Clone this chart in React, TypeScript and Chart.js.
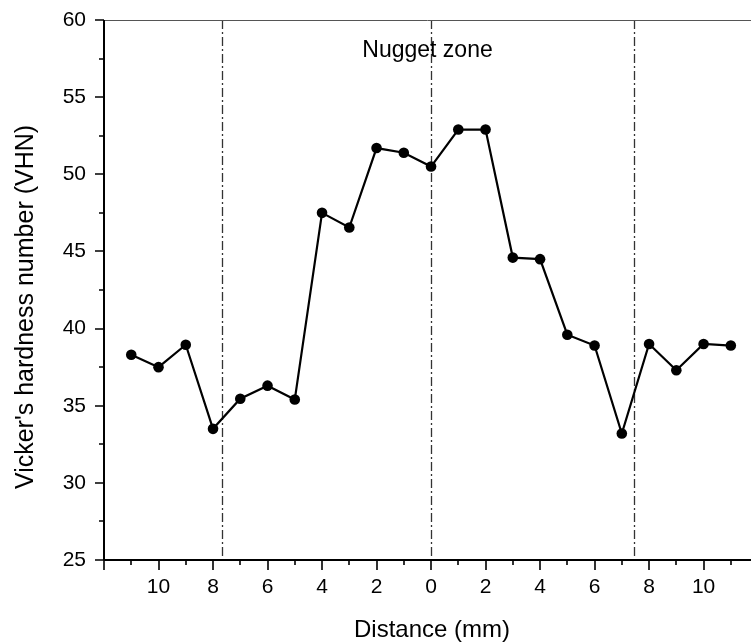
import React, { useEffect, useRef } from 'react';
import { Chart, registerables } from 'chart.js';

Chart.register(...registerables);

// ---- data ----
const distances = [-11, -10, -9, -8, -7, -6, -5, -4, -3, -2, -1, 0, 1, 2, 3, 4, 5, 6, 7, 8, 9, 10, 11];
const hardness = [38.3, 37.5, 38.95, 33.5, 35.45, 36.3, 35.4, 47.5, 46.55, 51.7, 51.4, 50.5, 52.9, 52.9, 44.6, 44.5, 39.6, 38.9, 33.2, 39.0, 37.3, 39.0, 38.9];
const zoneBoundaries = [-7.67, 0, 7.45];
const xRange = [-12, 11.74];
const yRange = [25, 60];
const xTitle = 'Distance (mm)';
const yTitle = "Vicker's hardness number (VHN)";
const zoneLabel = 'Nugget zone';

const FONT = '"Liberation Sans", Arial, Helvetica, sans-serif';

const decorPlugin = {
  id: 'decor',
  beforeDatasetsDraw(chart: any) {
    const { ctx, chartArea: a, scales } = chart;
    const x = scales.x;
    ctx.save();
    // zone boundary lines
    ctx.strokeStyle = '#333';
    ctx.lineWidth = 1.3;
    ctx.setLineDash([9, 3, 2, 3]);
    zoneBoundaries.forEach((v) => {
      const px = Math.round(x.getPixelForValue(v)) + 0.5;
      ctx.beginPath();
      ctx.moveTo(px, a.top);
      ctx.lineTo(px, a.bottom);
      ctx.stroke();
    });
    ctx.setLineDash([]);
    // top frame line
    ctx.strokeStyle = '#555';
    ctx.lineWidth = 1;
    ctx.beginPath();
    ctx.moveTo(a.left, a.top + 0.5);
    ctx.lineTo(a.right, a.top + 0.5);
    ctx.stroke();
    // zone label
    ctx.fillStyle = '#000';
    ctx.font = `23px ${FONT}`;
    ctx.textAlign = 'center';
    ctx.textBaseline = 'alphabetic';
    ctx.fillText(zoneLabel, (a.left + a.right) / 2, a.top + 37);
    ctx.restore();
  },
  afterDraw(chart: any) {
    const { ctx, chartArea: a, scales } = chart;
    const x = scales.x;
    const y = scales.y;
    ctx.save();
    ctx.strokeStyle = '#000';
    ctx.lineWidth = 2;
    ctx.lineCap = 'butt';
    // axis lines
    ctx.beginPath();
    ctx.moveTo(a.left, a.top);
    ctx.lineTo(a.left, a.bottom);
    ctx.moveTo(a.left, a.bottom);
    ctx.lineTo(a.right, a.bottom);
    ctx.stroke();
    // ticks
    ctx.lineWidth = 1.6;
    ctx.beginPath();
    y.ticks.forEach((t: any) => {
      const py = Math.round(y.getPixelForValue(t.value));
      const len = t.value % 5 === 0 ? 9 : 5;
      ctx.moveTo(a.left, py);
      ctx.lineTo(a.left - len, py);
    });
    x.ticks.forEach((t: any) => {
      const px = Math.round(x.getPixelForValue(t.value));
      const len = Math.round(t.value) % 2 === 0 ? 10 : 5;
      ctx.moveTo(px, a.bottom);
      ctx.lineTo(px, a.bottom + len);
    });
    ctx.stroke();
    // axis titles
    ctx.fillStyle = '#000';
    ctx.font = `24px ${FONT}`;
    ctx.textAlign = 'center';
    ctx.textBaseline = 'alphabetic';
    ctx.fillText(xTitle, x.getPixelForValue(0) + 1, a.bottom + 77);
    ctx.font = `25px ${FONT}`;
    ctx.translate(33, a.top + 287);
    ctx.rotate(-Math.PI / 2);
    ctx.fillText(yTitle, 0, 0);
    ctx.restore();
  },
};

export default function App() {
  const canvasRef = useRef<HTMLCanvasElement | null>(null);

  useEffect(() => {
    const canvas = canvasRef.current;
    if (!canvas) return;
    const chart = new Chart(canvas, {
      type: 'line',
      data: {
        datasets: [
          {
            data: distances.map((d, i) => ({ x: d, y: hardness[i] })),
            borderColor: '#000',
            borderWidth: 2.2,
            pointRadius: 5.3,
            pointBackgroundColor: '#000',
            pointBorderColor: '#000',
            pointBorderWidth: 0,
            tension: 0,
            clip: false,
          } as any,
        ],
      },
      options: {
        animation: false,
        responsive: false,
        devicePixelRatio: 1,
        layout: { autoPadding: false, padding: { top: 20, right: 0, left: 0, bottom: 0 } },
        plugins: {
          legend: { display: false },
          tooltip: { enabled: false },
        },
        scales: {
          x: {
            type: 'linear',
            min: xRange[0],
            max: xRange[1],
            border: { display: false },
            grid: { display: false, drawTicks: false },
            ticks: {
              stepSize: 1,
              includeBounds: false,
              autoSkip: false,
              maxRotation: 0,
              padding: 15,
              color: '#000',
              font: { family: FONT, size: 21 },
              callback: (v: any) => {
                const n = Math.round(Number(v));
                return n % 2 === 0 && Math.abs(n) <= 10 ? String(Math.abs(n)) : '';
              },
            },
            afterFit: (s: any) => {
              s.height = 82;
              s.paddingLeft = 0;
              s.paddingRight = 0;
            },
          } as any,
          y: {
            type: 'linear',
            min: yRange[0],
            max: yRange[1],
            border: { display: false },
            grid: { display: false, drawTicks: false },
            ticks: {
              stepSize: 2.5,
              autoSkip: false,
              padding: 18,
              color: '#000',
              font: { family: FONT, size: 21 },
              callback: (v: any) => (Number(v) % 5 === 0 ? String(v) : ''),
            },
            afterFit: (s: any) => {
              s.width = 104;
              s.paddingTop = 0;
              s.paddingBottom = 0;
            },
          } as any,
        },
      },
      plugins: [decorPlugin],
    });
    return () => chart.destroy();
  }, []);

  return (
    <div style={{ position: 'fixed', left: 0, top: 0, width: 751, height: 642, background: '#fff' }}>
      <canvas ref={canvasRef} width={751} height={642} style={{ display: 'block' }} />
    </div>
  );
}
